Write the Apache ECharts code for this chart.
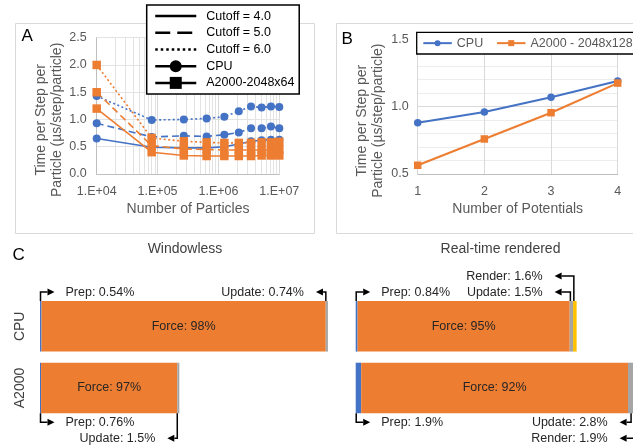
<!DOCTYPE html>
<html><head><meta charset="utf-8">
<script src="https://cdn.jsdelivr.net/npm/echarts@6/dist/echarts.min.js"></script>
<style>html,body{margin:0;padding:0;background:#fff}#c{width:633px;height:446px}</style>
</head><body><div id="c"></div>
<script>
// ---------- Panel A data ----------
const particles = [10000, 80000, 270000, 640000, 1250000, 2160000, 3430000, 5120000, 7290000, 10000000];
const cpuCut4 = [0.65, 0.49, 0.48, 0.48, 0.50, 0.55, 0.60, 0.62, 0.63, 0.63];
const cpuCut5 = [0.93, 0.68, 0.70, 0.69, 0.72, 0.76, 0.84, 0.84, 0.87, 0.84];
const cpuCut6 = [1.43, 0.99, 1.00, 1.02, 1.05, 1.15, 1.24, 1.22, 1.24, 1.23];
const gpuCut4 = [1.20, 0.40, 0.34, 0.33, 0.33, 0.33, 0.33, 0.34, 0.34, 0.34];
const gpuCut5 = [1.50, 0.52, 0.46, 0.45, 0.44, 0.44, 0.44, 0.44, 0.44, 0.45];
const gpuCut6 = [2.00, 0.66, 0.60, 0.58, 0.57, 0.57, 0.57, 0.58, 0.58, 0.59];
const legendA = ['Cutoff = 4.0', 'Cutoff = 5.0', 'Cutoff = 6.0', 'CPU', 'A2000-2048x64'];

// ---------- Panel B data ----------
const potentials = [1, 2, 3, 4];
const cpuPot = [0.88, 0.96, 1.07, 1.19];
const gpuPot = [0.565, 0.76, 0.955, 1.175];
const legendB = ['CPU', 'A2000 - 2048x128'];

// ---------- Panel C data ----------
const devices = ['CPU', 'A2000'];
const segNames = ['Prep', 'Force', 'Update', 'Render'];
const winTotal = [1.0, 0.484];
const winPrep = [0.54, 0.76];
const winForce = [98, 97];
const winUpdate = [0.74, 1.5];
const winRender = [0, 0];
const rtTotal = [0.77, 1.0];
const rtPrep = [0.84, 1.9];
const rtForce = [95, 92];
const rtUpdate = [1.5, 2.8];
const rtRender = [1.6, 1.9];

const FONT = 'Liberation Sans, Arial, sans-serif';
const GREY = '#595959';
const BLUE = '#4472C4', ORANGE = '#ED7D31', GRAYSEG = '#A5A5A5', YELLOW = '#FFC000';

const pairs = (xs, ys) => xs.map((x, i) => [x, ys[i]]);

const chart = echarts.init(document.getElementById('c'), null, {renderer: 'canvas'});

function expLabel(v) {
  const e = Math.round(Math.log10(v));
  return '1.E+' + String(e).padStart(2, '0');
}

// minor log gridlines
const minorLog = [];
for (let k = 4; k <= 6; k++) for (let m = 2; m <= 9; m++) minorLog.push({xAxis: m * Math.pow(10, k)});

function dataLine(name, ys, color, dash, symbol, size) {
  return {
    name, type: 'line', xAxisIndex: 0, yAxisIndex: 0, data: pairs(particles, ys),
    symbol, symbolSize: size, showSymbol: true,
    lineStyle: {color, width: 1.6, type: dash},
    itemStyle: {color, borderWidth: 0, borderColor: color, borderType: 'solid'}, z: 3, emphasis: {disabled: true}
  };
}
function legendDummy(name, dash, symbol, visibleSym) {
  return {
    name, type: 'line', xAxisIndex: 0, yAxisIndex: 0, data: [],
    symbol, lineStyle: {color: '#000', width: 2.5, type: dash},
    itemStyle: {color: visibleSym ? '#000' : 'rgba(0,0,0,0)', borderWidth: 0}
  };
}
function segValues(totals, pcts) { return pcts.map((p, i) => p / 100 * totals[i]); }
function barSeries(gi, stack, name, totals, pcts, color, labelOn) {
  return {
    name: stack + name, type: 'bar', xAxisIndex: gi, yAxisIndex: gi, stack,
    data: segValues(totals, pcts), barWidth: '82%', itemStyle: {color},
    silent: true,
    label: labelOn ? {show: true, position: 'inside', color: '#262626', fontSize: 12.5, fontFamily: FONT,
      formatter: p => 'Force: ' + pcts[p.dataIndex] + '%'} : {show: false}
  };
}

const axisLabelStyle = {color: GREY, fontSize: 12.5, fontFamily: FONT};
const nameStyle = {color: GREY, fontSize: 14, fontFamily: FONT};
const yNameStyle = {color: GREY, fontSize: 14, fontFamily: FONT, lineHeight: 16.5, padding: [0, 28, 0, 0]};

const option = {
  animation: false,
  textStyle: {fontFamily: FONT},
  grid: [
    {left: 96.7, top: 37.7, width: 182.6, height: 136.3, outerBoundsMode: 'none'},
    {left: 417.7, top: 39.3, width: 200, height: 134.7, outerBoundsMode: 'none'},
    {left: 40, top: 295.5, width: 290, height: 123.3, outerBoundsMode: 'none'},
    {left: 355.7, top: 295.5, width: 290, height: 123.3, outerBoundsMode: 'none'}
  ],
  xAxis: [
    {gridIndex: 0, type: 'log', logBase: 10, min: 10000, max: 10000000,
      axisLabel: Object.assign({formatter: expLabel, margin: 11}, axisLabelStyle),
      axisLine: {show: true, lineStyle: {color: '#bfbfbf', width: 1}}, axisTick: {show: false},
      splitLine: {show: true, lineStyle: {color: '#d9d9d9', width: 1}},
      name: 'Number of Particles', nameLocation: 'middle', nameGap: 28, nameTextStyle: nameStyle},
    {gridIndex: 1, type: 'value', min: 1, max: 4, interval: 1,
      axisLabel: Object.assign({margin: 11}, axisLabelStyle),
      axisLine: {show: true, lineStyle: {color: '#bfbfbf', width: 1}}, axisTick: {show: false},
      splitLine: {show: true, lineStyle: {color: '#d9d9d9', width: 1}},
      name: 'Number of Potentials', nameLocation: 'middle', nameGap: 28, nameTextStyle: nameStyle},
    {gridIndex: 2, type: 'value', min: 0, max: 1, show: false},
    {gridIndex: 3, type: 'value', min: 0, max: 1, show: false}
  ],
  yAxis: [
    {gridIndex: 0, type: 'value', min: 0, max: 2.5, interval: 0.5,
      axisLabel: Object.assign({formatter: v => v.toFixed(1), margin: 10}, axisLabelStyle),
      axisLine: {show: true, lineStyle: {color: '#bfbfbf', width: 1}}, axisTick: {show: false},
      splitLine: {show: true, lineStyle: {color: '#e3e3e3', width: 1}},
      name: 'Time per Step per\nParticle (µs/step/particle)', nameLocation: 'middle', nameGap: 31,
      nameTextStyle: yNameStyle},
    {gridIndex: 1, type: 'value', min: 0.5, max: 1.5, interval: 0.5,
      axisLabel: Object.assign({formatter: v => v.toFixed(1), margin: 9}, axisLabelStyle),
      axisLine: {show: false}, axisTick: {show: false},
      splitLine: {show: true, lineStyle: {color: '#d9d9d9', width: 1}},
      minorTick: {show: false, splitNumber: 5},
      minorSplitLine: {show: true, lineStyle: {color: '#ececec', width: 1}},
      name: 'Time per Step per\nParticle (µs/step/particle)', nameLocation: 'middle', nameGap: 31,
      nameTextStyle: yNameStyle},
    {gridIndex: 2, type: 'category', data: devices, inverse: true,
      axisLine: {show: false}, axisTick: {show: false},
      axisLabel: {rotate: 90, margin: 13, color: '#404040', fontSize: 14, fontFamily: FONT}},
    {gridIndex: 3, type: 'category', data: devices, inverse: true, show: false}
  ],
  legend: [
    {orient: 'vertical', left: 146.7, top: 5, itemWidth: 41, itemHeight: 15, itemGap: 1.7,
      padding: [3.6, 4.7, 3.6, 7.3], borderColor: '#000', borderWidth: 1.5, backgroundColor: '#fff',
      selectedMode: false, data: legendA, z: 10,
      lineStyle: {width: 2.5},
      textStyle: {fontSize: 12.5, color: '#000', fontFamily: FONT, lineHeight: 15, padding: [0, 0, 0, 5]}},
    {orient: 'horizontal', left: 416.7, top: 32.3, width: 260, itemWidth: 28.5, itemHeight: 7.5, itemGap: 12.8,
      padding: [3.85, 2.5, 3.85, 5.6], borderColor: '#000', borderWidth: 1.3, backgroundColor: '#fff',
      selectedMode: false, data: legendB.map(n => n + ' (B)'), z: 10,
      formatter: n => n.replace(' (B)', ''),
      textStyle: {fontSize: 12.5, color: GREY, fontFamily: FONT, lineHeight: 14}}
  ],
  series: [
    {type: 'line', name: 'gridMinor', xAxisIndex: 0, yAxisIndex: 0, data: [], z: 1,
      markLine: {silent: true, symbol: 'none', label: {show: false}, animation: false, z: 1,
        lineStyle: {color: '#e3e3e3', type: 'solid', width: 1}, data: minorLog}},
    dataLine('cpu4', cpuCut4, BLUE, 'solid', 'circle', 8),
    dataLine('cpu5', cpuCut5, BLUE, [7, 4], 'circle', 8),
    dataLine('cpu6', cpuCut6, BLUE, [2, 2.5], 'circle', 8),
    dataLine('gpu4', gpuCut4, ORANGE, 'solid', 'rect', 8.5),
    dataLine('gpu5', gpuCut5, ORANGE, [7, 4], 'rect', 8.5),
    dataLine('gpu6', gpuCut6, ORANGE, [2, 2.5], 'rect', 8.5),
    legendDummy(legendA[0], 'solid', 'circle', false),
    legendDummy(legendA[1], [15, 7], 'circle', false),
    legendDummy(legendA[2], [2.5, 3], 'circle', false),
    legendDummy(legendA[3], 'solid', 'circle', true),
    legendDummy(legendA[4], 'solid', 'rect', true),
    {name: legendB[0] + ' (B)', type: 'line', xAxisIndex: 1, yAxisIndex: 1, data: pairs(potentials, cpuPot),
      symbol: 'circle', symbolSize: 7.5, lineStyle: {color: BLUE, width: 2},
      itemStyle: {color: BLUE, borderWidth: 0}, z: 3},
    {name: legendB[1] + ' (B)', type: 'line', xAxisIndex: 1, yAxisIndex: 1, data: pairs(potentials, gpuPot),
      symbol: 'rect', symbolSize: 7.5, lineStyle: {color: ORANGE, width: 2},
      itemStyle: {color: ORANGE, borderWidth: 0}, z: 3},
    barSeries(2, 'w', 'Prep', winTotal, winPrep, BLUE, false),
    barSeries(2, 'w', 'Force', winTotal, winForce, ORANGE, true),
    barSeries(2, 'w', 'Update', winTotal, winUpdate, GRAYSEG, false),
    barSeries(2, 'w', 'Render', winTotal, winRender, YELLOW, false),
    barSeries(3, 'r', 'Prep', rtTotal, rtPrep, BLUE, false),
    barSeries(3, 'r', 'Force', rtTotal, rtForce, ORANGE, true),
    barSeries(3, 'r', 'Update', rtTotal, rtUpdate, GRAYSEG, false),
    barSeries(3, 'r', 'Render', rtTotal, rtRender, YELLOW, false)
  ]
};
chart.setOption(option);

// ---------- annotations for panel C (positions from the chart's own scales) ----------
const tables = {
  w: {grid: 2, total: winTotal, Prep: winPrep, Force: winForce, Update: winUpdate, Render: winRender, reach: 12},
  r: {grid: 3, total: rtTotal, Prep: rtPrep, Force: rtForce, Update: rtUpdate, Render: rtRender, reach: 22}
};
const notes = [
  {p: 'w', row: 0, seg: 'Prep', side: 'above', level: 0, dir: 'right'},
  {p: 'w', row: 0, seg: 'Update', side: 'above', level: 0, dir: 'left'},
  {p: 'w', row: 1, seg: 'Prep', side: 'below', level: 0, dir: 'right'},
  {p: 'w', row: 1, seg: 'Update', side: 'below', level: 1, dir: 'left'},
  {p: 'r', row: 0, seg: 'Prep', side: 'above', level: 0, dir: 'right'},
  {p: 'r', row: 0, seg: 'Update', side: 'above', level: 0, dir: 'left'},
  {p: 'r', row: 0, seg: 'Render', side: 'above', level: 1, dir: 'left'},
  {p: 'r', row: 1, seg: 'Prep', side: 'below', level: 0, dir: 'right'},
  {p: 'r', row: 1, seg: 'Update', side: 'below', level: 0, dir: 'left'},
  {p: 'r', row: 1, seg: 'Render', side: 'below', level: 1, dir: 'left'}
];
const levelOff = [9, 25];
const toPx = (g, v, row) => chart.convertToPixel({gridIndex: g}, [v, row]);
const gfx = [];
notes.forEach((n, idx) => {
  const t = tables[n.p];
  const tot = t.total[n.row];
  let start = 0, s0 = 0, s1 = 0;
  segNames.forEach(s => {
    const v = t[s][n.row] / 100 * tot;
    if (s === n.seg) { s0 = start; s1 = start + v; }
    start += v;
  });
  const barEnd = toPx(t.grid, start, n.row)[0];
  const c = toPx(t.grid, 0, n.row);
  const band = Math.abs(toPx(t.grid, 0, 1)[1] - toPx(t.grid, 0, 0)[1]);
  const half = band * 0.41;
  const edgeY = n.side === 'above' ? c[1] - half : c[1] + half;
  const lineY = n.side === 'above' ? edgeY - levelOff[n.level] : edgeY + levelOff[n.level];
  const ax = n.seg === 'Prep' ? toPx(t.grid, s0, n.row)[0] + 0.5 : toPx(t.grid, (s0 + s1) / 2, n.row)[0] - 1;
  let tip, tx, align;
  if (n.dir === 'right') { tip = ax + 14; tx = tip + 11; align = 'left'; }
  else { tip = barEnd - t.reach; tx = tip - 12; align = 'right'; }
  const hb = n.dir === 'right' ? tip - 7 : tip + 7;
  gfx.push({type: 'polyline', silent: true, z: 20,
    shape: {points: [[ax, edgeY], [ax, lineY], [hb, lineY]]},
    style: {stroke: '#000', lineWidth: 1.5, fill: null}});
  gfx.push({type: 'polygon', silent: true, z: 20,
    shape: {points: [[tip, lineY], [hb, lineY - 3.5], [hb, lineY + 3.5]]},
    style: {fill: '#000'}});
  gfx.push({type: 'text', silent: true, z: 20, x: tx, y: lineY,
    style: {text: n.seg + ': ' + t[n.seg][n.row] + '%', fill: '#262626',
      font: '12.5px ' + FONT, textAlign: align, textVerticalAlign: 'middle'}});
});

// panel frames and headings
gfx.push({type: 'rect', silent: true, z: 0, shape: {x: 15.5, y: 23.5, width: 299, height: 210},
  style: {fill: null, stroke: '#d9d9d9', lineWidth: 1}});
gfx.push({type: 'rect', silent: true, z: 0, shape: {x: 336.5, y: 23.5, width: 310, height: 210},
  style: {fill: null, stroke: '#d9d9d9', lineWidth: 1}});
const heads = [
  {t: 'A', x: 21.5, y: 36, size: 17, color: '#000', align: 'left'},
  {t: 'B', x: 341.5, y: 39, size: 17, color: '#000', align: 'left'},
  {t: 'C', x: 12.5, y: 255.5, size: 17, color: '#000', align: 'left'},
  {t: 'Windowless', x: 185, y: 249.5, size: 14, color: '#404040', align: 'center'},
  {t: 'Real-time rendered', x: 500.5, y: 249.5, size: 14, color: '#404040', align: 'center'}
];
heads.forEach(h => gfx.push({type: 'text', silent: true, z: 20, x: h.x, y: h.y,
  style: {text: h.t, fill: h.color, font: h.size + 'px ' + FONT, textAlign: h.align, textVerticalAlign: 'middle'}}));

chart.setOption({graphic: gfx});
</script>
</body></html>
